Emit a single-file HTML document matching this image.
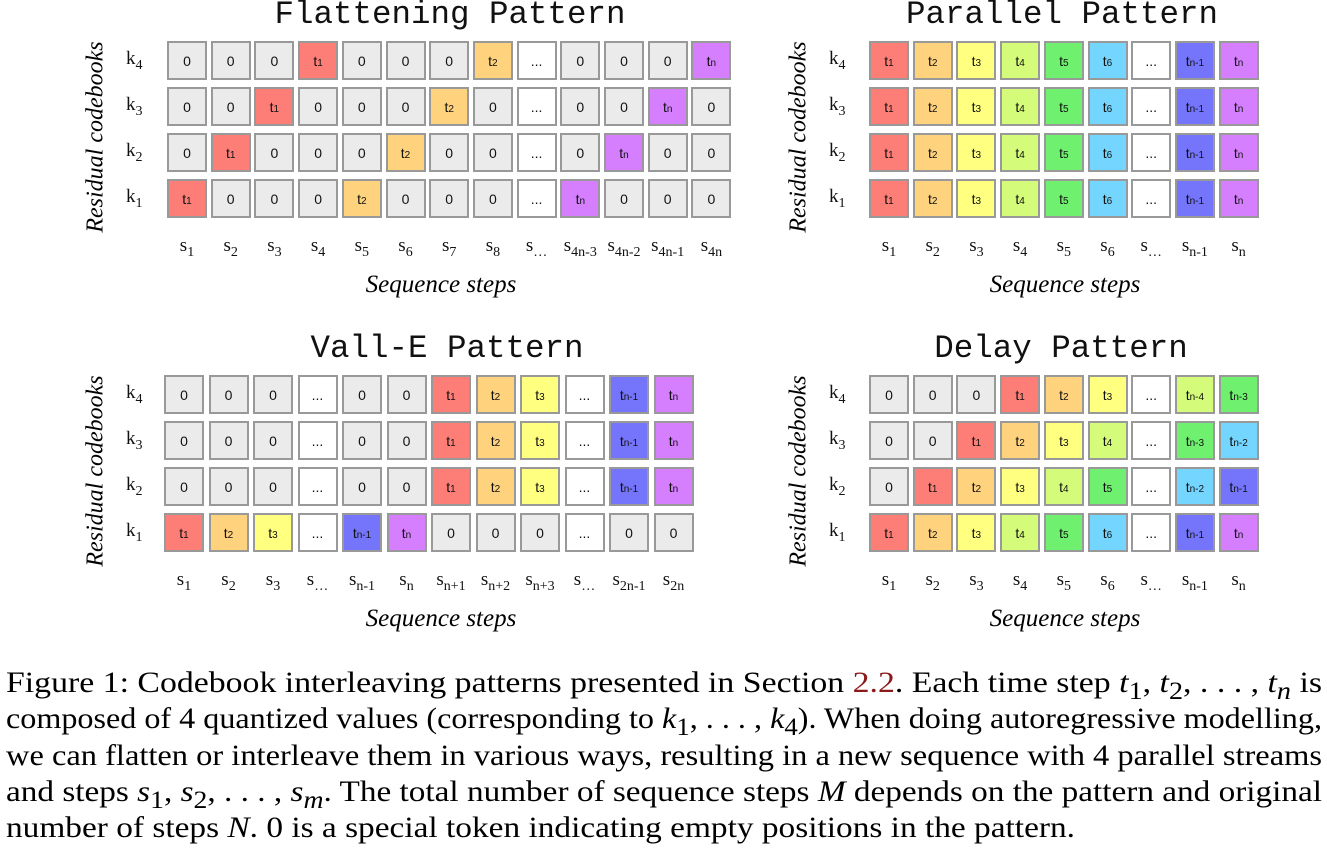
<!DOCTYPE html>
<html><head><meta charset="utf-8">
<style>
body{margin:0;width:1327px;height:859px;background:#fff;position:relative;overflow:hidden;font-family:"Liberation Serif","Times New Roman",serif;}
.abs{position:absolute;}
.title{font-family:"Liberation Mono",monospace;font-size:32.5px;color:#111;white-space:nowrap;transform:translateX(-50%);}
.cell{position:absolute;width:36px;height:35px;border:2px solid #999;box-sizing:content-box;font-family:"Liberation Sans",sans-serif;font-size:14px;color:#111;display:flex;align-items:center;justify-content:center;}
.cell sub{font-size:10px;position:relative;top:3px;vertical-align:baseline;}
.klab,.slab{position:absolute;font-size:19px;color:#111;white-space:nowrap;}
.klab sub,.slab sub{font-size:14px;vertical-align:-5px;}
.ylab{position:absolute;font-size:24px;font-style:italic;white-space:nowrap;transform:translate(-50%,-50%) rotate(-90deg);}
.xlab{position:absolute;font-size:25px;font-style:italic;white-space:nowrap;transform:translateX(-50%);}
.cap{position:absolute;left:6px;font-size:30px;line-height:30px;white-space:nowrap;transform-origin:0 0;color:#000;}
.cap i{font-style:italic;}
.ref{color:#8b1a1a;}
</style></head><body>
<div id="root"></div>
<div class="cap" style="top:668px" data-w="1316">Figure 1: Codebook interleaving patterns presented in Section <span class="ref">2.2</span>. Each time step <i>t</i><sub>1</sub>, <i>t</i><sub>2</sub>, . . . , <i>t<sub>n</sub></i> is</div>
<div class="cap" style="top:704px" data-w="1316">composed of 4 quantized values (corresponding to <i>k</i><sub>1</sub>, . . . , <i>k</i><sub>4</sub>). When doing autoregressive modelling,</div>
<div class="cap" style="top:741px" data-w="1316">we can flatten or interleave them in various ways, resulting in a new sequence with 4 parallel streams</div>
<div class="cap" style="top:777px" data-w="1316">and steps <i>s</i><sub>1</sub>, <i>s</i><sub>2</sub>, . . . , <i>s<sub>m</sub></i>. The total number of sequence steps <i>M</i> depends on the pattern and original</div>
<div class="cap" style="top:813px" data-w="1069">number of steps <i>N</i>. 0 is a special token indicating empty positions in the pattern.</div>
<script>
const colors={"t1":"#fd7d77","t2":"#ffd27d","t3":"#ffff80","t4":"#d5fb7a","t5":"#6ff16f","t6":"#74d5ff","tn-4":"#d5fb7a","tn-3":"#6ff16f","tn-2":"#74d5ff","tn-1":"#7575fb","tn":"#d57fff","0":"#ebebeb","...":"#ffffff"};
const flatRows=[
["0","0","0","t1","0","0","0","t2","...","0","0","0","tn"],
["0","0","t1","0","0","0","t2","0","...","0","0","tn","0"],
["0","t1","0","0","0","t2","0","0","...","0","tn","0","0"],
["t1","0","0","0","t2","0","0","0","...","tn","0","0","0"]];
const parRow=["t1","t2","t3","t4","t5","t6","...","tn-1","tn"];
const parRows=[parRow,parRow,parRow,parRow];
const vallTop=["0","0","0","...","0","0","t1","t2","t3","...","tn-1","tn"];
const vallRows=[vallTop,vallTop,vallTop,["t1","t2","t3","...","tn-1","tn","0","0","0","...","0","0"]];
const delayRows=[
["0","0","0","t1","t2","t3","...","tn-4","tn-3"],
["0","0","t1","t2","t3","t4","...","tn-3","tn-2"],
["0","t1","t2","t3","t4","t5","...","tn-2","tn-1"],
["t1","t2","t3","t4","t5","t6","...","tn-1","tn"]];
const flatSteps=["1","2","3","4","5","6","7","8","…","4n-3","4n-2","4n-1","4n"];
const parSteps=["1","2","3","4","5","6","…","n-1","n"];
const vallSteps=["1","2","3","…","n-1","n","n+1","n+2","n+3","…","2n-1","2n"];
const kLabels=["4","3","2","1"];
const panels=[
 {name:"flattening",title:"Flattening Pattern",rows:flatRows,steps:flatSteps,x0:167,y0:41,kx:126,tx:450,px:43.7,xc:441},
 {name:"parallel",title:"Parallel Pattern",rows:parRows,steps:parSteps,x0:869,y0:41,kx:829,tx:1062,px:43.7,xc:1065},
 {name:"vall-e",title:"Vall-E Pattern",rows:vallRows,steps:vallSteps,x0:164,y0:375,kx:126,tx:447,px:44.5,xc:441},
 {name:"delay",title:"Delay Pattern",rows:delayRows,steps:parSteps,x0:869,y0:375,kx:829,tx:1061,px:43.7,xc:1065}];
const PY=46;
const root=document.getElementById('root');
function tok(s){if(s[0]==='t')return 't<sub>'+s.slice(1)+'</sub>';return s;}
panels.forEach(p=>{
 const PX=p.px;
 const t=document.createElement('div');t.className='abs title';
 
 
 t.style.left=p.tx+'px';t.style.top=(p.y0-45)+'px';t.textContent=p.title;root.appendChild(t);
 p.rows.forEach((row,r)=>{
  row.forEach((v,c)=>{
   const d=document.createElement('div');d.className='cell';
   
   
   d.style.left=(p.x0+c*PX)+'px';d.style.top=(p.y0+r*PY)+'px';
   d.style.background=colors[v];d.innerHTML=tok(v);root.appendChild(d);
  });
  const k=document.createElement('div');k.className='klab';
  
  
  k.style.left=p.kx+'px';k.style.top=(p.y0+r*PY+7)+'px';k.innerHTML='k<sub>'+kLabels[r]+'</sub>';root.appendChild(k);
 });
 p.steps.forEach((s,c)=>{
  const e=document.createElement('div');e.className='slab';
  
  
  e.style.left=(p.x0+c*PX+20)+'px';e.style.top=(p.y0+194)+'px';e.style.transform='translateX(-50%)';
  e.innerHTML='s<sub>'+s+'</sub>';root.appendChild(e);
 });
 const y=document.createElement('div');y.className='ylab';
 
 
 y.style.left=(p.kx-30)+'px';y.style.top=(p.y0+96)+'px';y.textContent='Residual codebooks';root.appendChild(y);
 const x=document.createElement('div');x.className='xlab';
 
 
 x.style.left=p.xc+'px';x.style.top=(p.y0+230)+'px';x.textContent='Sequence steps';root.appendChild(x);
});
document.querySelectorAll('.cap').forEach(c=>{
 const w=c.getBoundingClientRect().width;const tw=+c.dataset.w;
 c.style.transform='scaleX('+(tw/w)+')';
});
</script>
</body></html>
